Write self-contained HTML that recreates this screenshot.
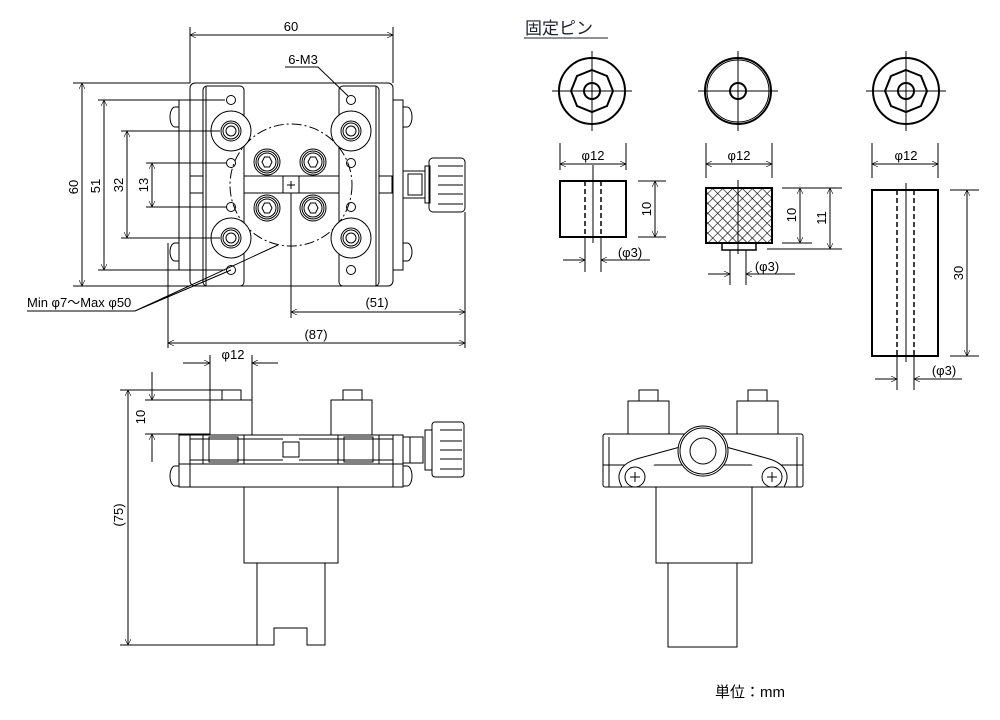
<!DOCTYPE html>
<html><head><meta charset="utf-8"><style>
html,body{margin:0;padding:0;background:#fff;}
svg{display:block;}
text{font-family:"Liberation Sans","Noto Sans CJK JP",sans-serif;fill:#000;}
</style></head><body>
<svg width="1000" height="720" viewBox="0 0 1000 720" xmlns="http://www.w3.org/2000/svg">
<defs>
<marker id="a" viewBox="0 0 10 10" refX="10" refY="5" markerWidth="8" markerHeight="6" orient="auto-start-reverse" markerUnits="userSpaceOnUse"><path d="M0,0 L10,5 L0,10" fill="none" stroke="#000" stroke-width="1"/></marker>
<pattern id="h" width="7" height="7" patternUnits="userSpaceOnUse" patternTransform="rotate(45)"><path d="M0,0 V7 M0,0 H7" stroke="#000" stroke-width="1.2"/></pattern>
</defs>
<g fill="none" stroke="#000" stroke-width="1">
<rect x="179" y="100" width="11" height="170"/>
<rect x="393" y="100" width="10" height="170"/>
<path d="M179,107 h-4 a5,10 0 0 0 0,20 h4 M179,243 h-4 a5,9 0 0 0 0,18 h4 M403,107 h4 a5,10 0 0 1 0,20 h-4 M403,243 h4 a5,9 0 0 1 0,18 h-4"/>
<rect x="190" y="83" width="203" height="203" rx="5"/>
<rect x="203" y="86" width="41" height="200" rx="4"/>
<rect x="339" y="86" width="40" height="200" rx="4"/>
<line x1="206" y1="86" x2="206" y2="286"/><line x1="376" y1="86" x2="376" y2="286"/>
<rect x="190" y="176" width="13" height="17"/><rect x="379" y="176" width="13" height="17"/>
<rect x="244" y="176" width="39" height="17"/><rect x="299" y="176" width="40" height="17"/>
<rect x="283" y="176" width="16" height="17"/>
<path d="M287,185 h8 M291,181 v8"/>
<circle cx="291" cy="185" r="61" stroke-dasharray="10,3,2,3"/>
<g>
<circle cx="231" cy="131" r="20" fill="#fff"/><circle cx="231" cy="131" r="10"/><circle cx="231" cy="131" r="8"/><circle cx="231" cy="131" r="5"/>
<circle cx="231" cy="238" r="20" fill="#fff"/><circle cx="231" cy="238" r="10"/><circle cx="231" cy="238" r="8"/><circle cx="231" cy="238" r="5"/>
<circle cx="351" cy="131" r="20" fill="#fff"/><circle cx="351" cy="131" r="10"/><circle cx="351" cy="131" r="8"/><circle cx="351" cy="131" r="5"/>
<circle cx="351" cy="238" r="20" fill="#fff"/><circle cx="351" cy="238" r="10"/><circle cx="351" cy="238" r="8"/><circle cx="351" cy="238" r="5"/>
</g>
<g>
<circle cx="231" cy="100" r="4.5"/><circle cx="231" cy="163" r="4.5"/><circle cx="231" cy="207" r="4.5"/><circle cx="231" cy="270" r="4.5"/>
<circle cx="351" cy="100" r="4.5"/><circle cx="351" cy="163" r="4.5"/><circle cx="351" cy="207" r="4.5"/><circle cx="351" cy="270" r="4.5"/>
</g>
<g>
<circle cx="267" cy="162" r="13"/><circle cx="267" cy="162" r="11"/><circle cx="267" cy="162" r="9"/><path d="M262,162 l2.5,-5 h5 l2.5,5 l-2.5,5 h-5z"/>
<circle cx="313" cy="162" r="13"/><circle cx="313" cy="162" r="11"/><circle cx="313" cy="162" r="9"/><path d="M308,162 l2.5,-5 h5 l2.5,5 l-2.5,5 h-5z"/>
<circle cx="267" cy="208" r="13"/><circle cx="267" cy="208" r="11"/><circle cx="267" cy="208" r="9"/><path d="M262,208 l2.5,-5 h5 l2.5,5 l-2.5,5 h-5z"/>
<circle cx="313" cy="208" r="13"/><circle cx="313" cy="208" r="11"/><circle cx="313" cy="208" r="9"/><path d="M308,208 l2.5,-5 h5 l2.5,5 l-2.5,5 h-5z"/>
</g>
<rect x="403" y="171" width="22" height="27"/><rect x="408" y="174" width="14" height="21"/>
<rect x="425" y="166" width="5" height="37"/>
<rect x="429" y="158" width="36" height="54" rx="4"/>
<path d="M438,166 h25 M438,176 h25 M438,185 h25 M438,194 h25 M438,204 h25"/>
<path d="M190,83 V27 M393,83 V27"/>
<line x1="190" y1="35" x2="393" y2="35" marker-start="url(#a)" marker-end="url(#a)"/>
<path d="M285,67 h33 L348,96"/>
<path d="M73,83 H190 M73,286 H190"/>
<line x1="82" y1="83" x2="82" y2="286" marker-start="url(#a)" marker-end="url(#a)"/>
<path d="M98,100 H225 M98,270 H225 M121,131 H220 M121,238 H220 M146,163 H226 M146,207 H226"/>
<line x1="104" y1="100" x2="104" y2="270" marker-start="url(#a)" marker-end="url(#a)"/>
<line x1="127" y1="131" x2="127" y2="238" marker-start="url(#a)" marker-end="url(#a)"/>
<line x1="152" y1="163" x2="152" y2="207" marker-start="url(#a)" marker-end="url(#a)"/>
<path d="M291,193 V318 M465,212 V348 M168,243 V348"/>
<line x1="291" y1="312" x2="465" y2="312" marker-start="url(#a)" marker-end="url(#a)"/>
<line x1="168" y1="343" x2="465" y2="343" marker-start="url(#a)" marker-end="url(#a)"/>
<path d="M27,311 H135 L231,270 M135,311 L278,245"/>
<line x1="183" y1="363" x2="210" y2="363" marker-end="url(#a)"/>
<line x1="278" y1="363" x2="252" y2="363" marker-end="url(#a)"/>
<path d="M210,355 V400 M252,355 V400"/>
<rect x="210" y="400" width="42" height="35"/><rect x="222" y="390" width="19" height="10"/>
<rect x="331" y="400" width="41" height="35"/><rect x="343" y="390" width="19" height="10"/>
<rect x="179" y="435" width="224" height="52"/>
<line x1="179" y1="464" x2="403" y2="464"/>
<rect x="179" y="435" width="11" height="52"/><rect x="393" y="435" width="10" height="52"/>
<path d="M190,439 H283 M190,460 H283 M299,439 H393 M299,460 H393"/>
<rect x="283" y="442" width="16" height="15"/>
<rect x="203" y="435" width="41" height="29"/><rect x="209" y="437" width="29" height="25"/>
<rect x="338" y="435" width="41" height="29"/><rect x="344" y="437" width="29" height="25"/>
<path d="M179,466 h-4 a5,10 0 0 0 0,20 h4 M403,466 h4 a5,10 0 0 1 0,20 h-4"/>
<rect x="403" y="437" width="7" height="26"/>
<rect x="410" y="437" width="13" height="26"/>
<rect x="425" y="430" width="7" height="40"/>
<rect x="432" y="422" width="32" height="55" rx="3"/>
<path d="M440,430 h22 M440,441 h22 M440,450 h22 M440,459 h22 M440,469 h22"/>
<rect x="244" y="487" width="94" height="76"/>
<path d="M257,563 V645 H274 V628 H307 V645 H325 V563"/>
<path d="M120,390 H222 M145,400 H210 M145,434 H210 M120,645 H257"/>
<line x1="128" y1="390" x2="128" y2="645" marker-start="url(#a)" marker-end="url(#a)"/>
<line x1="152" y1="372" x2="152" y2="400" marker-end="url(#a)"/>
<line x1="152" y1="462" x2="152" y2="434" marker-end="url(#a)"/>
<rect x="628" y="401" width="41" height="33"/><rect x="639" y="390" width="19" height="11"/>
<rect x="737" y="401" width="41" height="33"/><rect x="748" y="390" width="19" height="11"/>
<rect x="603" y="434" width="200" height="53" rx="2"/>
<line x1="603" y1="465" x2="803" y2="465"/>
<path d="M609,437 V465 M797,437 V465 M609,465 V487 M797,465 V487"/>
<path d="M622,487 C615,475 620,463 640,458 L680,447 M784,487 C791,475 786,463 766,458 L726,447" fill="#fff"/>
<circle cx="703" cy="451" r="25" fill="#fff"/><circle cx="703" cy="451" r="23"/><circle cx="703" cy="451" r="13"/>
<circle cx="635" cy="477" r="10"/><path d="M630,477 h10 M635,472 v10"/>
<circle cx="772" cy="477" r="10"/><path d="M767,477 h10 M772,472 v10"/>
<rect x="656" y="487" width="96" height="76"/>
<rect x="668" y="563" width="69" height="84"/>
</g>
<g fill="none" stroke="#000" stroke-width="1">
<path d="M552,91 h80 M592,51 v80 M698,91 h80 M738,51 v80 M866,91 h80 M906,51 v80"/>
<path d="M593,165 V243 M738,180 V254 M906,183 V362" />
</g>
<g fill="none" stroke="#000" stroke-width="2">
<circle cx="592" cy="91" r="33"/>
<polygon points="592,70 607,76 613,91 607,106 592,112 577,106 571,91 577,76"/>
<circle cx="592" cy="91" r="8"/>
<circle cx="738" cy="91" r="33"/><circle cx="738" cy="91" r="31" stroke-width="1"/><circle cx="738" cy="91" r="8"/>
<circle cx="906" cy="91" r="33"/>
<polygon points="906,70 921,76 927,91 921,106 906,112 891,106 885,91 891,76"/>
<circle cx="906" cy="91" r="8"/>
<rect x="560" y="181" width="66" height="56"/>
<rect x="706" y="188" width="66" height="55" fill="url(#h)"/>
<rect x="722" y="243" width="34" height="7" stroke-width="1.5"/>
<rect x="872" y="190" width="66" height="166"/>
</g>
<g fill="none" stroke="#000" stroke-width="1.5" stroke-dasharray="5,3">
<path d="M585,181 V237 M601,181 V237 M897,190 V356 M914,190 V356"/>
</g>
<g fill="none" stroke="#000" stroke-width="1">
<path d="M560,143 V170 M626,143 V170 M706,143 V178 M772,143 V178 M872,143 V178 M938,143 V178"/>
<line x1="560" y1="164" x2="626" y2="164" marker-start="url(#a)" marker-end="url(#a)"/>
<line x1="706" y1="164" x2="772" y2="164" marker-start="url(#a)" marker-end="url(#a)"/>
<line x1="872" y1="164" x2="938" y2="164" marker-start="url(#a)" marker-end="url(#a)"/>
<path d="M638,181 H666 M638,237 H666"/>
<line x1="655" y1="181" x2="655" y2="237" marker-start="url(#a)" marker-end="url(#a)"/>
<path d="M782,188 H842 M782,243 H812 M767,249 H842"/>
<line x1="800" y1="188" x2="800" y2="243" marker-start="url(#a)" marker-end="url(#a)"/>
<line x1="830" y1="188" x2="830" y2="249" marker-start="url(#a)" marker-end="url(#a)"/>
<path d="M950,190 H979 M950,356 H979"/>
<line x1="967" y1="190" x2="967" y2="356" marker-start="url(#a)" marker-end="url(#a)"/>
<path d="M585,237 V272 M601,237 V272 M730,250 V285 M746,250 V285 M897,356 V390 M914,356 V390"/>
<line x1="563" y1="260" x2="585" y2="260" marker-end="url(#a)"/><line x1="650" y1="260" x2="601" y2="260" marker-end="url(#a)"/>
<line x1="708" y1="274" x2="730" y2="274" marker-end="url(#a)"/><line x1="795" y1="274" x2="746" y2="274" marker-end="url(#a)"/>
<line x1="875" y1="379" x2="897" y2="379" marker-end="url(#a)"/><line x1="962" y1="379" x2="914" y2="379" marker-end="url(#a)"/>
<line x1="524" y1="38" x2="608" y2="38" stroke="#223"/>
</g>
<g font-size="13">
<text x="291" y="31" text-anchor="middle">60</text>
<text x="303" y="64" text-anchor="middle">6-M3</text>
<text transform="translate(78,187) rotate(-90)" text-anchor="middle">60</text>
<text transform="translate(100,186) rotate(-90)" text-anchor="middle">51</text>
<text transform="translate(123,185) rotate(-90)" text-anchor="middle">32</text>
<text transform="translate(148,185) rotate(-90)" text-anchor="middle">13</text>
<text x="377" y="307" text-anchor="middle">(51)</text>
<text x="316" y="339" text-anchor="middle">(87)</text>
<text x="27" y="307">Min φ7～Max φ50</text>
<text x="233" y="359" text-anchor="middle">φ12</text>
<text transform="translate(145,417) rotate(-90)" text-anchor="middle">10</text>
<text transform="translate(123,515) rotate(-90)" text-anchor="middle">(75)</text>
<text x="593" y="160" text-anchor="middle">φ12</text>
<text x="739" y="160" text-anchor="middle">φ12</text>
<text x="906" y="160" text-anchor="middle">φ12</text>
<text transform="translate(651,209) rotate(-90)" text-anchor="middle">10</text>
<text transform="translate(796,215) rotate(-90)" text-anchor="middle">10</text>
<text transform="translate(826,218) rotate(-90)" text-anchor="middle">11</text>
<text transform="translate(963,273) rotate(-90)" text-anchor="middle">30</text>
<text x="630" y="257" text-anchor="middle">(φ3)</text>
<text x="767" y="271" text-anchor="middle">(φ3)</text>
<text x="944" y="375" text-anchor="middle">(φ3)</text>
</g>
<text x="525" y="34" font-size="17" style="fill:#223">固定ピン</text>
<text x="715" y="697" font-size="15">単位：mm</text>
</svg>
</body></html>
